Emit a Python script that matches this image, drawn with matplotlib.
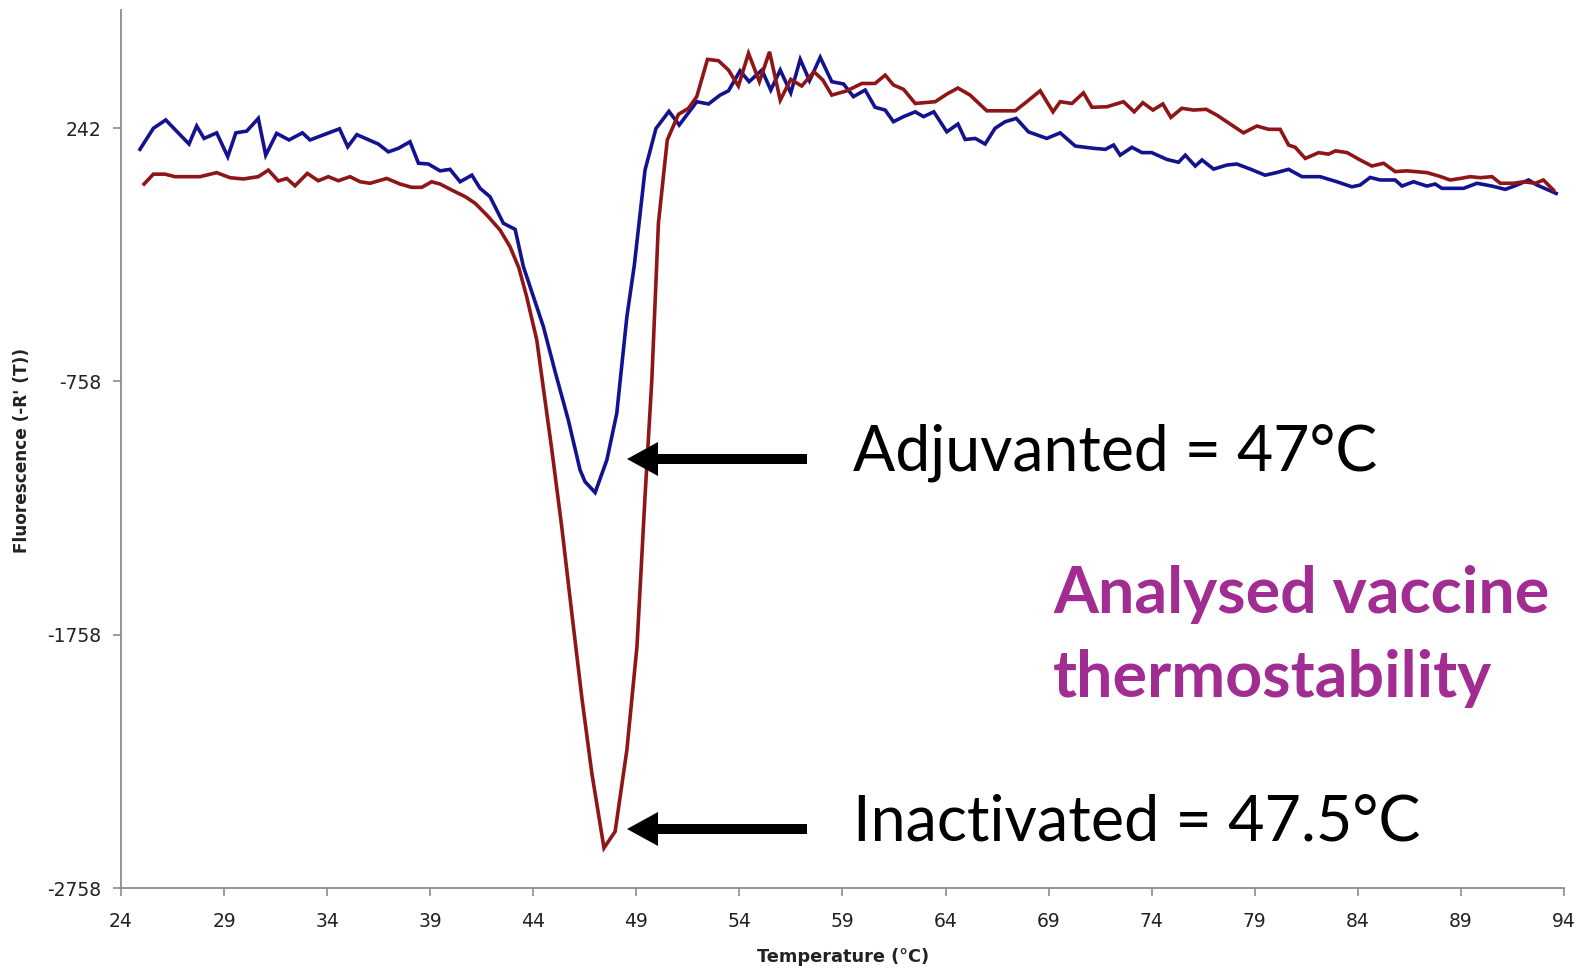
import matplotlib
matplotlib.use("Agg")
import matplotlib.pyplot as plt
from matplotlib.patches import FancyArrow

# ---------------- data ----------------
adj_temp = [24.92, 25.57, 26.17, 27.3, 27.67, 28.03, 28.64, 29.18, 29.57, 30.1,
            30.66, 31.02, 31.55, 32.15, 32.8, 33.17, 34.6, 35.0, 35.44, 36.48,
            36.97, 37.46, 38.02, 38.43, 38.91, 39.48, 39.96, 40.45, 41.02, 41.42,
            41.9, 42.55, 43.12, 43.52, 44.49, 45.06, 45.7, 46.27, 46.51, 47.0,
            47.57, 48.05, 48.54, 48.9, 49.42, 49.95, 50.58, 51.08, 51.93, 52.5,
            53.06, 53.47, 54.03, 54.47, 55.09, 55.52, 55.98, 56.49, 56.95, 57.4,
            57.92, 58.48, 59.05, 59.53, 60.1, 60.58, 61.07, 61.47, 61.96, 62.53,
            62.93, 63.43, 64.06, 64.6, 64.95, 65.44, 65.92, 66.4, 66.89, 67.43,
            68.02, 68.91, 69.56, 70.29, 71.18, 71.75, 72.15, 72.47, 73.04, 73.53,
            74.0, 74.74, 75.3, 75.63, 76.11, 76.44, 77.0, 77.65, 78.13, 78.78,
            79.5, 80.0, 80.64, 81.29, 82.17, 82.98, 83.71, 84.11, 84.6, 85.08,
            85.81, 86.14, 86.7, 87.35, 87.75, 88.08, 89.13, 89.78, 90.5, 91.15,
            91.72, 92.28, 92.69, 93.17, 93.62]
adj_fluor = [158, 241, 274, 179, 250, 201, 223, 129, 223, 230,
             280, 135, 221, 195, 223, 195, 239, 168, 216, 179,
             148, 162, 188, 103, 100, 73, 79, 30, 56, 4,
             -29, -134, -158, -305, -542, -720, -911, -1108, -1154, -1197,
             -1068, -884, -503, -300, 76, 240, 308, 254, 346, 337,
             372, 389, 468, 425, 471, 392, 471, 381, 513, 429,
             521, 425, 416, 366, 392, 324, 313, 267, 287, 306,
             287, 306, 227, 258, 197, 201, 179, 241, 267, 280,
             227, 201, 223, 171, 162, 158, 175, 135, 166, 145,
             145, 118, 107, 135, 92, 116, 80, 96, 100, 80,
             56, 65, 79, 50, 50, 30, 10, 17, 47, 37,
             37, 13, 30, 13, 21, 4, 4, 24, 13, 0,
             17, 37, 17, 0, -16]

inact_temp = [25.12, 25.57, 26.13, 26.62, 27.83, 28.64, 29.29, 29.93, 30.66, 31.15,
              31.63, 32.04, 32.44, 33.04, 33.57, 34.06, 34.54, 35.11, 35.6, 36.08,
              36.89, 37.54, 38.1, 38.59, 39.07, 39.48, 40.05, 40.7, 41.18, 41.82,
              42.39, 42.87, 43.3, 43.68, 44.17, 44.9, 45.38, 45.87, 46.35, 46.84,
              47.43, 47.97, 48.54, 49.03, 49.42, 49.75, 50.07, 50.5, 51.04, 51.53,
              51.93, 52.45, 52.98, 53.47, 53.95, 54.44, 54.97, 55.46, 55.98, 56.49,
              57.02, 57.62, 58.05, 58.48, 59.21, 59.94, 60.58, 61.07, 61.47, 61.96,
              62.53, 63.5, 64.06, 64.6, 65.19, 66.0, 67.38, 67.94, 68.59, 69.21,
              69.56, 70.13, 70.69, 71.1, 71.83, 72.63, 73.15, 73.57, 74.06, 74.54,
              74.93, 75.46, 76.03, 76.64, 77.16, 78.45, 79.1, 79.67, 80.23, 80.64,
              80.96, 81.45, 82.1, 82.58, 82.91, 83.48, 84.11, 84.68, 85.25, 85.81,
              86.38, 87.35, 87.91, 88.48, 88.97, 89.45, 89.94, 90.51, 90.91, 91.56,
              92.04, 92.61, 93.0, 93.49]
inact_fluor = [21, 60, 60, 50, 50, 66, 46, 41, 50, 76,
               33, 43, 14, 63, 34, 50, 34, 50, 30, 24,
               43, 21, 8, 8, 30, 21, -3, -29, -55, -108,
               -161, -226, -310, -424, -595, -1029, -1332, -1674, -2003, -2305,
               -2600, -2535, -2213, -1805, -1213, -753, -134, 195, 296, 320,
               366, 513, 508, 471, 408, 537, 425, 543, 352, 434,
               408, 464, 431, 372, 389, 418, 418, 451, 412, 395,
               339, 346, 376, 400, 372, 310, 310, 346, 389, 306,
               346, 339, 381, 324, 326, 346, 306, 342, 313, 337,
               284, 320, 313, 316, 293, 223, 250, 237, 237, 175,
               166, 122, 145, 139, 152, 145, 116, 92, 103, 70,
               73, 66, 53, 37, 43, 50, 46, 50, 24, 24,
               30, 24, 37, -3]

x_ticks = [24, 29, 34, 39, 44, 49, 54, 59, 64, 69, 74, 79, 84, 89, 94]
y_ticks = [-2758, -1758, -758, 242]

x_label = "Temperature (°C)"
y_label = "Fluorescence (-R' (T))"
label_adj = "Adjuvanted = 47°C"
label_inact = "Inactivated = 47.5°C"
title_lines = ["Analysed vaccine", "thermostability"]

# ---------------- figure ----------------
W, H = 1587, 971
fig = plt.figure(figsize=(W / 100, H / 100), dpi=100)
fig.patch.set_facecolor("white")

def fx(px):
    return px / W

def fy(py):
    return 1 - py / H

ax = fig.add_axes([fx(121), fy(888), fx(1564) - fx(121), fy(10) - fy(888)])
ax.plot(adj_temp, adj_fluor, color="#13138F", lw=2.6, solid_joinstyle="miter")
ax.plot(inact_temp, inact_fluor, color="#8E1616", lw=2.6, solid_joinstyle="miter")

ax.set_xlim(24, 94)
ax.set_ylim(-2758, 708)
ax.set_xticks(x_ticks)
ax.set_yticks(y_ticks)
ax.set_xticklabels([str(t) for t in x_ticks])
ax.set_yticklabels([str(t) for t in y_ticks])

for s in ["top", "right"]:
    ax.spines[s].set_visible(False)
for s in ["left", "bottom"]:
    ax.spines[s].set_color("#8C8C8C")
    ax.spines[s].set_linewidth(1.3)

ax.tick_params(axis="both", direction="out", length=6, width=1.2, color="#8C8C8C",
               labelsize=13.5, labelcolor="#222222")
ax.tick_params(axis="x", pad=11)
ax.tick_params(axis="y", pad=8)

fig.text(fx(843), fy(957), x_label, ha="center", va="center",
         fontsize=12.8, fontweight="bold", color="#222222")
fig.text(fx(22), fy(450), y_label, ha="center", va="center", rotation=90,
         fontsize=12.2, fontweight="bold", color="#222222")

# annotations
fig.text(fx(853), fy(470), label_adj, ha="left", va="baseline",
         fontsize=45, family="Lato", color="black")
fig.text(fx(853), fy(840), label_inact, ha="left", va="baseline",
         fontsize=45.3, family="Lato", color="black")
fig.text(fx(1053), fy(613), title_lines[0], ha="left", va="baseline",
         fontsize=46.5, family="Lato", fontweight="bold", color="#A22D92")
fig.text(fx(1053), fy(697), title_lines[1], ha="left", va="baseline",
         fontsize=46.5, family="Lato", fontweight="bold", color="#A22D92")

for ypx in (459, 829):
    arr = FancyArrow(fx(807), fy(ypx), fx(627) - fx(807), 0,
                     width=10 / H, head_width=34 / H, head_length=31 / W,
                     length_includes_head=True, transform=fig.transFigure,
                     color="black", lw=0)
    fig.add_artist(arr)

fig.savefig("out.png", dpi=100, facecolor="white")
